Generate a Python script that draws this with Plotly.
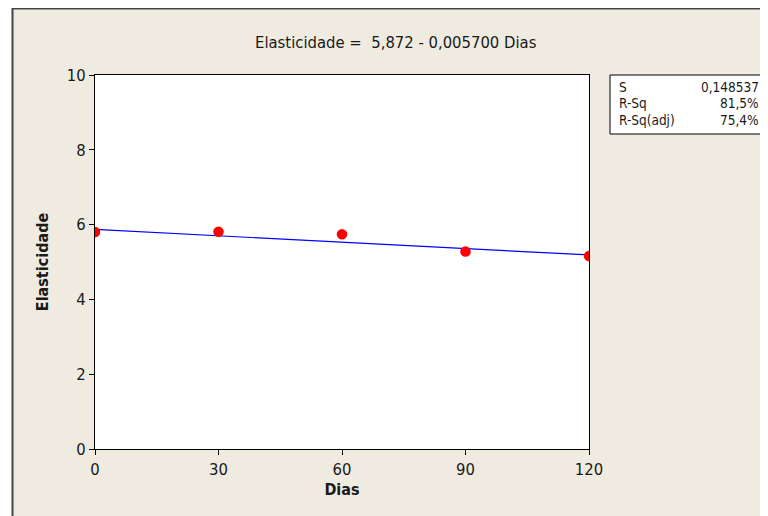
import plotly.graph_objects as go

# Data
dias = [0, 30, 60, 90, 120]
elasticidade = [5.80, 5.81, 5.74, 5.28, 5.16]
intercept = 5.872
slope = -0.0057
stat_labels = ["S", "R-Sq", "R-Sq(adj)"]
stat_values = ["0,148537", "81,5%", "75,4%"]
x_ticks = [0, 30, 60, 90, 120]
y_ticks = [0, 2, 4, 6, 8, 10]

OFF = 8  # page body margin
W, H = 768 - OFF, 516 - OFF
L, R, T, B = 95 - OFF, 768 - 589, 75 - OFF, 516 - 449
pw, ph = W - L - R, H - T - B

def px(x):  # screen pixel -> paper x
    return (x - OFF - L) / pw

def py(y):  # screen pixel -> paper y
    return (H - B - (y - OFF)) / ph

FONT = "DejaVu Sans Condensed, DejaVu Sans, sans-serif"
TXT = "#1a1a1a"

line_x = [dias[0], dias[-1]]
line_y = [intercept + slope * v for v in line_x]

fig = go.Figure()
fig.add_trace(go.Scatter(x=line_x, y=line_y, mode="lines",
                         line=dict(color="#0000ff", width=1.2),
                         hoverinfo="skip", showlegend=False))
fig.add_trace(go.Scatter(x=dias, y=elasticidade, mode="markers",
                         marker=dict(color="#ff0000", size=10.5),
                         showlegend=False))

shapes = [
    dict(type="rect", xref="paper", yref="paper",
         x0=px(12.5), x1=px(780), y0=py(8.5), y1=py(530),
         fillcolor="#efebe1", line=dict(color="#444444", width=2), layer="below"),
    dict(type="rect", xref="paper", yref="paper",
         x0=0, x1=1, y0=0, y1=1,
         fillcolor="white", line=dict(width=0), layer="below"),
    dict(type="rect", xref="paper", yref="paper",
         x0=px(610), x1=px(765), y0=py(75), y1=py(134),
         fillcolor="white", line=dict(color="black", width=1), layer="below"),
]

annotations = [
    dict(text="Elasticidade =  5,872 - 0,005700 Dias", xref="paper", yref="paper",
         x=px(396), y=py(42), showarrow=False, xanchor="center", yanchor="middle",
         font=dict(family=FONT, size=16.5, color=TXT)),
]
rows_y = [87, 103, 120]
for lab, val, yy in zip(stat_labels, stat_values, rows_y):
    annotations.append(dict(text=lab, xref="paper", yref="paper", x=px(617), y=py(yy),
                            showarrow=False, xanchor="left", yanchor="middle",
                            font=dict(family=FONT, size=13.5, color=TXT)))
    annotations.append(dict(text=val, xref="paper", yref="paper", x=px(761), y=py(yy),
                            showarrow=False, xanchor="right", yanchor="middle",
                            font=dict(family=FONT, size=13.5, color=TXT)))

fig.update_layout(
    width=W, height=H,
    margin=dict(l=L, r=R, t=T, b=B),
    paper_bgcolor="white",
    plot_bgcolor="white",
    shapes=shapes,
    annotations=annotations,
    font=dict(family=FONT, color=TXT),
)
fig.update_xaxes(range=[0, 120], tickvals=x_ticks, ticktext=[str(v) for v in x_ticks],
                 showgrid=False, zeroline=False, showline=True, mirror=True,
                 linecolor="black", linewidth=1, ticks="outside", ticklen=5,
                 tickcolor="black", tickfont=dict(size=16.5, color=TXT),
                 title=dict(text="<b>Dias</b>", font=dict(size=16, color=TXT), standoff=6))
fig.update_yaxes(range=[0, 10], tickvals=y_ticks, ticktext=[str(v) for v in y_ticks],
                 showgrid=False, zeroline=False, showline=True, mirror=True,
                 linecolor="black", linewidth=1, ticks="outside", ticklen=5,
                 tickcolor="black", tickfont=dict(size=16.5, color=TXT),
                 title=dict(text="<b>Elasticidade</b>", font=dict(size=16, color=TXT), standoff=14))

fig.write_html("out.html")
